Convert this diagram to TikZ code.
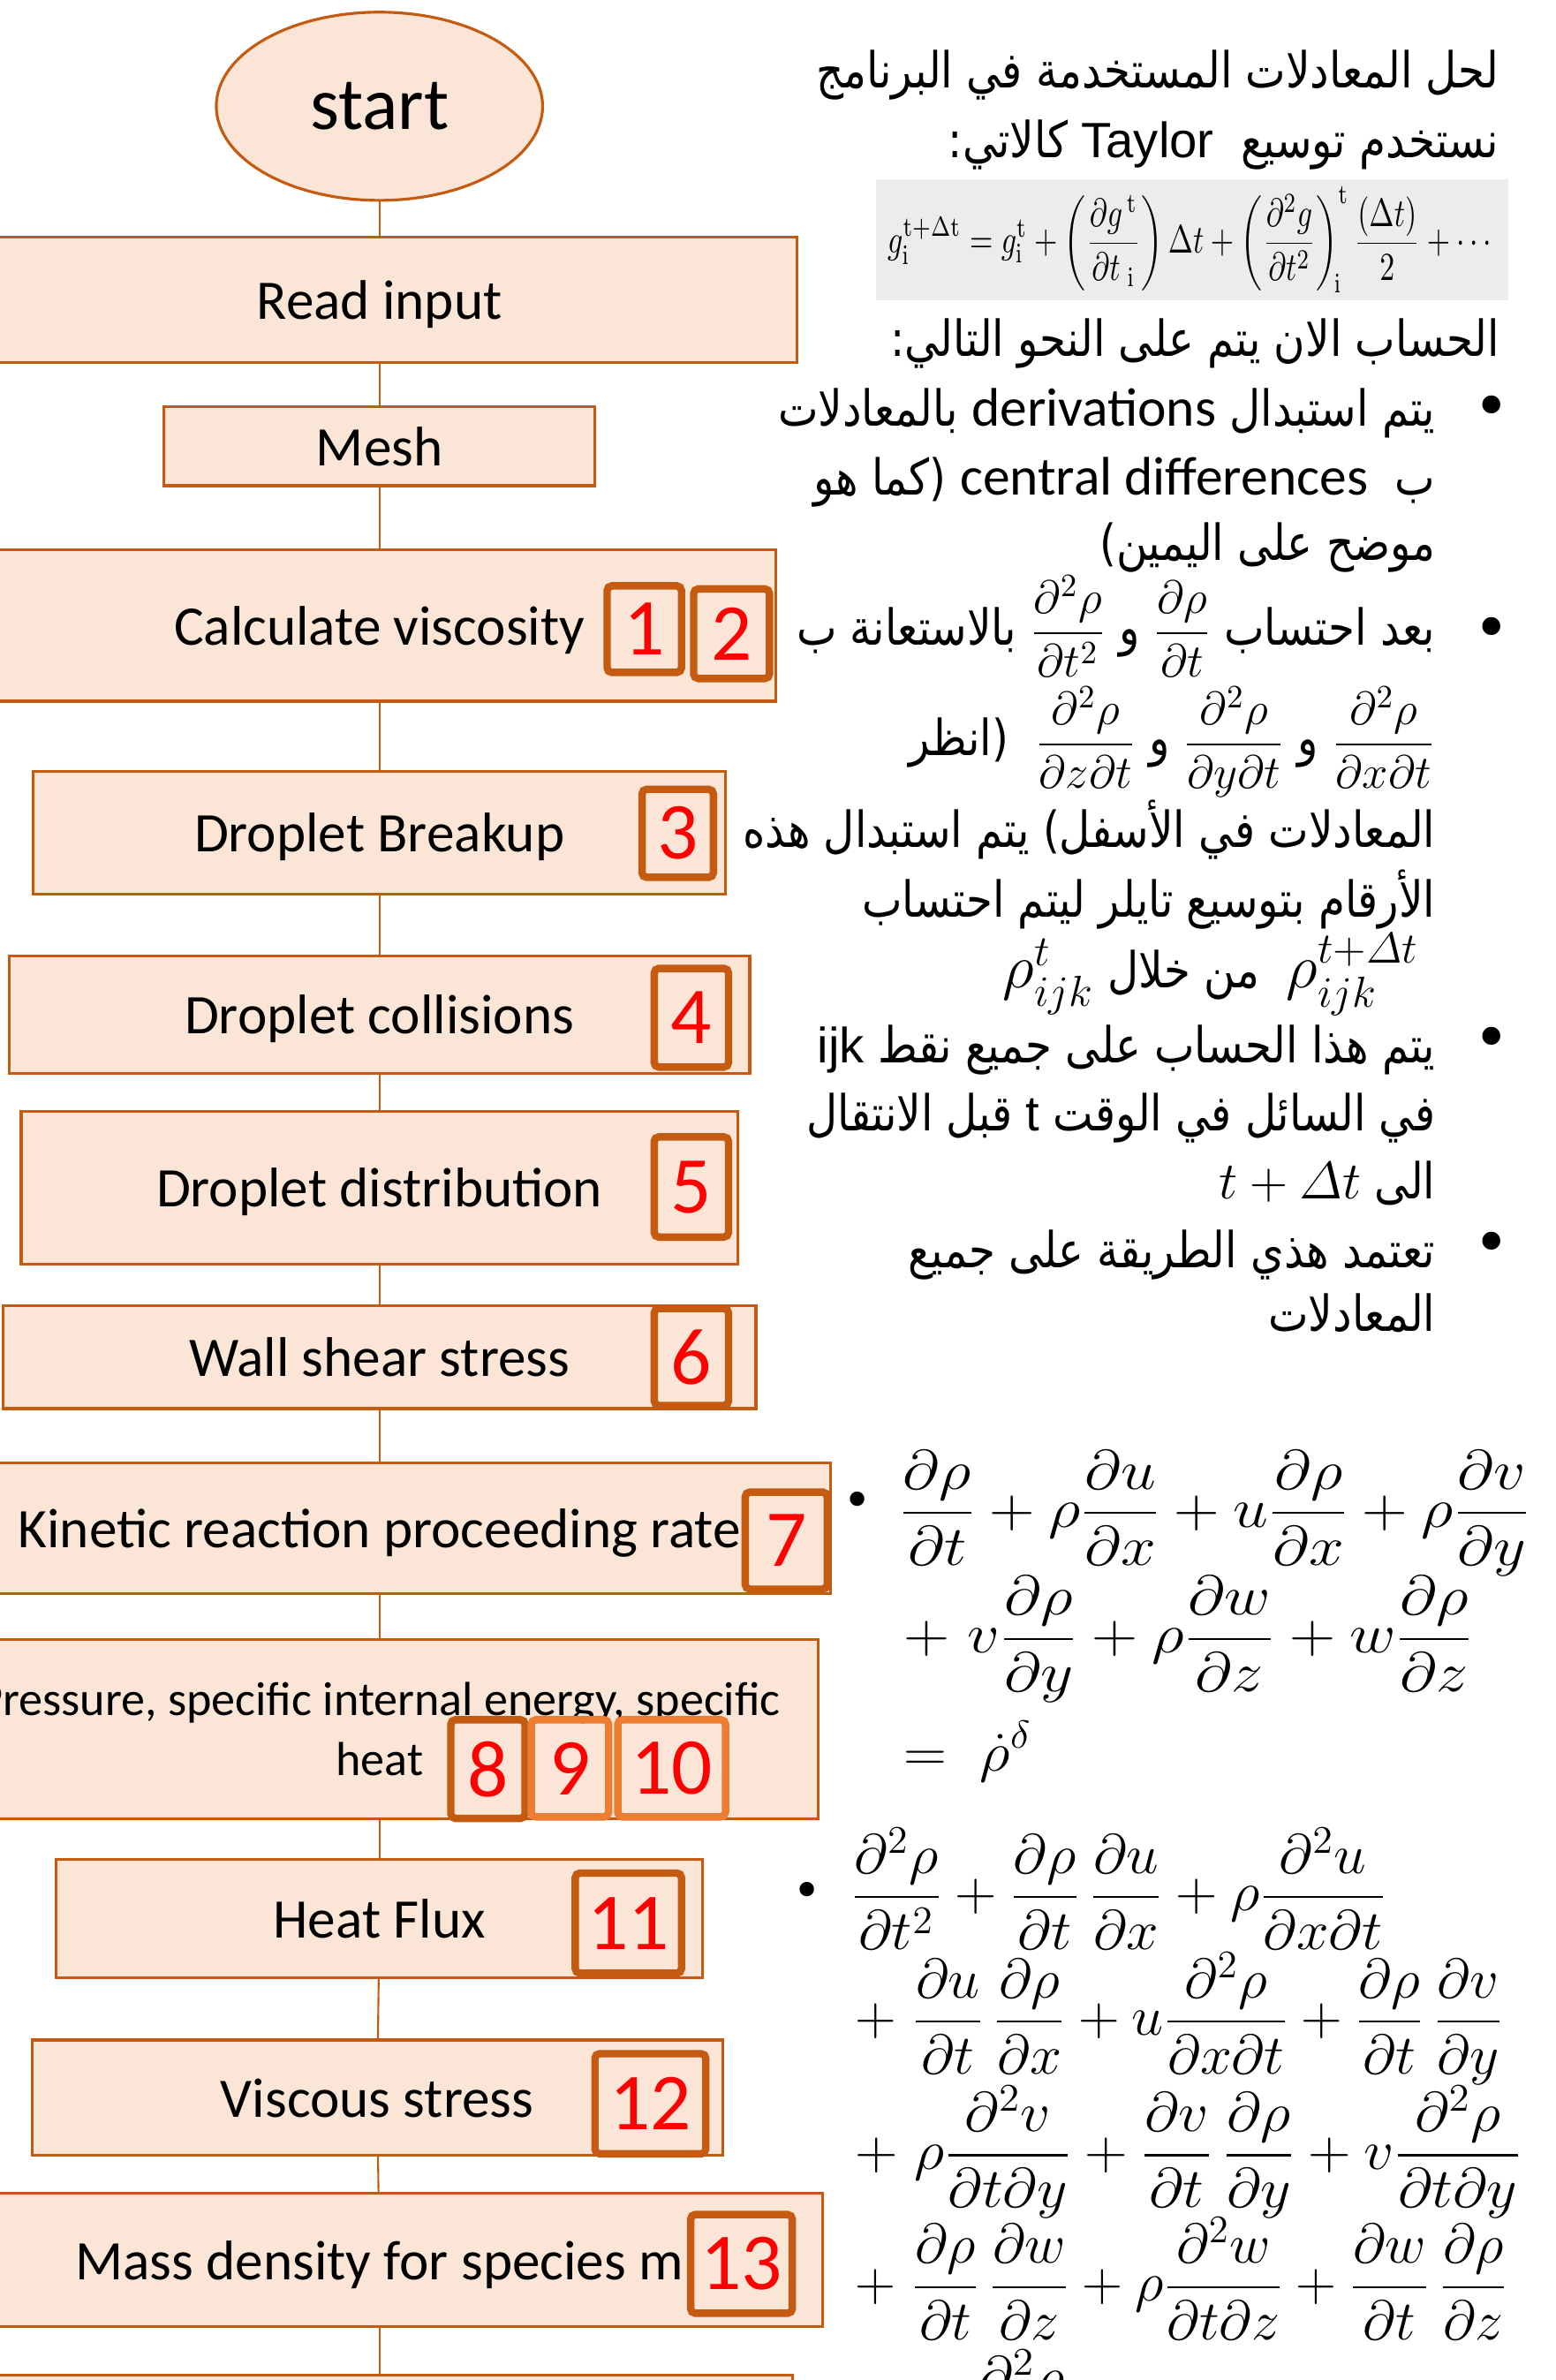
\RequirePackage{fix-cm}
\documentclass[tikz,border=0pt]{standalone}
\usepackage{amsmath}
\usepackage[no-math]{fontspec}
\usetikzlibrary{shapes.geometric}
\TeXXeTstate=1
\newfontfamily\arabfont[Script=Arabic, FakeStretch=0.86]{DejaVu Sans}
\newfontfamily\carl{Carlito}
\newfontfamily\arialf{Liberation Sans}
\newfontfamily\djv{DejaVu Sans}
\definecolor{boxfill}{HTML}{FBE5D6}
\definecolor{boxline}{HTML}{C55A11}
\definecolor{lightline}{HTML}{ED7D31}
\definecolor{numred}{HTML}{FF0000}
\definecolor{taylorbg}{HTML}{ECECEC}
\def\uu{0.01719cm}
\newcommand\flowrect[6]{\node[flowbox, minimum width={((#4)-(#2))*\uu}, minimum height={((#5)-(#3))*\uu}] (#1) at ({((#2)+(#4))/2},{((#3)+(#5))/2}) {#6};}
\newcommand\numrect[7][boxline]{\node[numbox=#1, minimum width={((#5)-(#3))*\uu}, minimum height={((#6)-(#4))*\uu}] (#2) at ({((#3)+(#5))/2},{((#4)+(#6))/2}) {#7};}
\newcommand\AR[1]{{\arabfont\beginR #1\endR}}
\newcommand\hfit[2]{\resizebox{#1}{\height}{#2}}
\begin{document}
\begin{tikzpicture}[x=0.01719cm,y=-0.01719cm,
  flowbox/.style={draw=boxline, fill=boxfill, line width=0.9pt, inner sep=0pt, text depth=0pt, font=\carl\fontsize{18}{21}\selectfont},
  numbox/.style={draw=#1, line width=2.4pt, rounded corners=1.5pt, inner sep=0pt, text=numred, font=\carl\fontsize{26}{26}\selectfont},
  numbox/.default=boxline,
  conn/.style={draw=boxline, line width=0.6pt},
  arline/.style={inner sep=0pt, anchor=base east, font=\arabfont\fontsize{16}{16}\selectfont},
  eqline/.style={inner sep=0pt, anchor=base west, font=\fontsize{18}{18}\selectfont},
  bul/.style={inner sep=0pt, anchor=base, font=\djv\fontsize{20}{20}\selectfont}]
\useasboundingbox (0,0) rectangle (1025,1568);
\clip (0,0) rectangle (1025,1568);
% ---------- flow chart ----------
\node[ellipse, draw=boxline, fill=boxfill, line width=0.9pt, inner sep=0pt,
      minimum width={215*\uu}, minimum height={124*\uu},
      font=\carl\fontsize{24}{24}\selectfont] (start) at (250,70) {start};
\flowrect{read}{-25}{156}{525}{239}{Read input}
\flowrect{mesh}{108}{268}{392}{320}{Mesh}
\flowrect{visc}{-11}{362}{511}{462}{Calculate viscosity}
\flowrect{brk}{22}{508}{478}{589}{Droplet Breakup}
\flowrect{coll}{6}{630}{494}{707}{Droplet collisions}
\flowrect{dist}{14}{732}{486}{833}{Droplet distribution}
\flowrect{wall}{2}{860}{498}{928}{Wall shear stress}
\flowrect{kin}{-47}{964}{547}{1050}{Kinetic reaction proceeding rate}
\node[flowbox, align=center, font=\carl\fontsize{15.4}{19.5}\selectfont,
      minimum width={578*\uu}, minimum height={118*\uu}] (pres) at (250,1139)
      {Pressure, specific internal energy, specific\\heat};
\flowrect{heat}{37}{1225}{463}{1303}{Heat Flux}
\flowrect{vstr}{21}{1344}{476}{1420}{Viscous stress}
\flowrect{mass}{-42}{1445}{542}{1533}{Mass density for species m}
\flowrect{bot}{-22}{1565}{522}{1660}{}
\draw[conn] (start) -- (read);
\draw[conn] (read) -- (mesh);
\draw[conn] (mesh) -- (visc);
\draw[conn] (visc) -- (brk);
\draw[conn] (brk) -- (coll);
\draw[conn] (coll) -- (dist);
\draw[conn] (dist) -- (wall);
\draw[conn] (wall) -- (kin);
\draw[conn] (kin) -- (pres);
\draw[conn] (pres) -- (heat);
\draw[conn] (heat) -- (vstr);
\draw[conn] (vstr) -- (mass);
\draw[conn] (mass) -- (bot);
% numbered markers
\numrect{n1}{400}{386}{449}{443}{1}
\numrect{n2}{457}{388}{507}{447}{2}
\numrect{n3}{423}{520}{470}{578}{3}
\numrect{n4}{431}{638}{480}{703}{4}
\numrect{n5}{431}{749}{480}{815}{5}
\numrect{n6}{431}{862}{480}{926}{6}
\numrect{n7}{491}{983}{545}{1047}{7}
\numrect{n8}{297}{1133}{346}{1198}{8}
\numrect[lightline]{n9}{350}{1133}{401}{1197}{9}
\numrect[lightline]{n10}{407}{1133}{478}{1197}{10}
\numrect{n11}{379}{1234}{449}{1300}{11}
\numrect{n12}{392}{1353}{465}{1419}{12}
\numrect{n13}{455}{1459}{522}{1524}{13}
% ---------- Arabic explanation ----------
\node[arline] (t1) at (988,58) {\AR{لحل المعادلات المستخدمة في البرنامج}};
\node[arline] (t2) at (988,104) {\AR{كالاتي:}\ {\arialf Taylor}\ \ \AR{نستخدم توسيع}};
\node[fill=taylorbg, inner sep=0pt, minimum width={417*\uu}, minimum height={80*\uu}] (taylor) at (785.5,158)
  {\raisebox{-0.07cm}{\resizebox*{6.9cm}{1.2cm}{$\displaystyle g_{\mathrm i}^{\mathrm{t+\Delta t}}=g_{\mathrm i}^{\mathrm t}+\left(\frac{\partial g^{\,\mathrm t}}{\partial t_{\;\mathrm i}}\right)\Delta t+\left(\frac{\partial^2 g}{\partial t^2}\right)_{\!\mathrm i}^{\mathrm t}\frac{(\Delta t)}{2}+\cdots$}}};
\node[arline] (t3) at (988,235) {\AR{الحساب الان يتم على النحو التالي:}};
% bullet 1
\node[bul] (d1) at (983,282) {•};
\node[arline] (b1a) at (946,281) {\AR{بالمعادلات}\ {\carl\fontsize{17.5}{17.5}\selectfont derivations}\ \AR{يتم استبدال}};
\node[arline] (b1b) at (946,326) {\AR{(كما هو}\ {\carl\fontsize{17.5}{17.5}\selectfont central differences}\ \ \AR{ب}};
\node[arline] (b1c) at (946,369) {\AR{موضح على اليمين)}};
% bullet 2
\node[bul] (d2) at (983,428) {•};
\node[arline] (b2a) at (946,425) {\AR{بالاستعانة ب}\ {\fontsize{15}{15}\selectfont$\displaystyle\frac{\partial^2\rho}{\partial t^2}$}\ \AR{و}\ {\fontsize{15}{15}\selectfont$\displaystyle\frac{\partial\rho}{\partial t}$}\ \AR{بعد احتساب}};
\node[arline] (b2b) at (946,498) {\AR{(انظر}\ \ {\fontsize{15}{15}\selectfont$\displaystyle\frac{\partial^2\rho}{\partial z\partial t}$}\ \AR{و}\ {\fontsize{15}{15}\selectfont$\displaystyle\frac{\partial^2\rho}{\partial y\partial t}$}\ \AR{و}\ {\fontsize{15}{15}\selectfont$\displaystyle\frac{\partial^2\rho}{\partial x\partial t}$}};
\node[arline] (b2c) at (946,558) {\AR{المعادلات في الأسفل) يتم استبدال هذه}};
\node[arline] (b2d) at (946,604) {\AR{الأرقام بتوسيع تايلر ليتم احتساب}};
\node[arline] (b2e) at (935,651) {{\fontsize{20}{20}\selectfont$\rho^{t}_{ijk}$}\ \AR{من خلال}\ \ {\fontsize{20}{20}\selectfont$\rho^{t+\varDelta t}_{ijk}$}};
% bullet 3
\node[bul] (d3) at (983,698) {•};
\node[arline] (b3a) at (946,700) {{\arialf ijk}\ \AR{يتم هذا الحساب على جميع نقط}};
\node[arline] (b3b) at (946,745) {\AR{قبل الانتقال}\ {\arialf t}\ \AR{في السائل في الوقت}};
\node[arline] (b3c) at (946,790) {{\fontsize{17}{17}\selectfont$t+\varDelta t$}\ \AR{الى}};
% bullet 4
\node[bul] (d4) at (983,833) {•};
\node[arline] (b4a) at (946,835) {\AR{تعتمد هذي الطريقة على جميع}};
\node[arline] (b4b) at (946,877) {\AR{المعادلات}};
% ---------- equations ----------
\node[bul, font=\djv\fontsize{16}{16}\selectfont] (e1d) at (565,1000) {•};
\node[eqline] (e1a) at (592,1006) {\hfit{7.15cm}{$\displaystyle\frac{\partial\rho}{\partial t}+\rho\frac{\partial u}{\partial x}+u\frac{\partial\rho}{\partial x}+\rho\frac{\partial v}{\partial y}$}};
\node[eqline] (e1b) at (595,1089) {\hfit{6.45cm}{$\displaystyle+\;v\frac{\partial\rho}{\partial y}+\rho\frac{\partial w}{\partial z}+w\frac{\partial\rho}{\partial z}$}};
\node[eqline] (e1c) at (595,1167) {\hfit{1.45cm}{$\displaystyle=\;\dot{\rho}^{\delta}$}};
\node[bul, font=\djv\fontsize{16}{16}\selectfont] (e2d) at (532,1257) {•};
\node[eqline] (e2a) at (560,1259) {\hfit{6.07cm}{$\displaystyle\frac{\partial^2\rho}{\partial t^2}+\frac{\partial\rho}{\partial t}\,\frac{\partial u}{\partial x}+\rho\frac{\partial^2 u}{\partial x\partial t}$}};
\node[eqline] (e2b) at (563,1341) {\hfit{7.34cm}{$\displaystyle+\;\frac{\partial u}{\partial t}\,\frac{\partial\rho}{\partial x}+u\frac{\partial^2\rho}{\partial x\partial t}+\frac{\partial\rho}{\partial t}\,\frac{\partial v}{\partial y}$}};
\node[eqline] (e2c) at (563,1429) {\hfit{7.55cm}{$\displaystyle+\;\rho\frac{\partial^2 v}{\partial t\partial y}+\frac{\partial v}{\partial t}\,\frac{\partial\rho}{\partial y}+v\frac{\partial^2\rho}{\partial t\partial y}$}};
\node[eqline] (e2e) at (563,1516) {\hfit{7.39cm}{$\displaystyle+\;\frac{\partial\rho}{\partial t}\,\frac{\partial w}{\partial z}+\rho\frac{\partial^2 w}{\partial t\partial z}+\frac{\partial w}{\partial t}\,\frac{\partial\rho}{\partial z}$}};
\node[eqline] (e2f) at (563,1603) {\scalebox{1.07}[1]{$\displaystyle+\;w\frac{\partial^2\rho}{\partial t\partial z}=\dot{\rho}^{\delta}$}};
\end{tikzpicture}
\end{document}
